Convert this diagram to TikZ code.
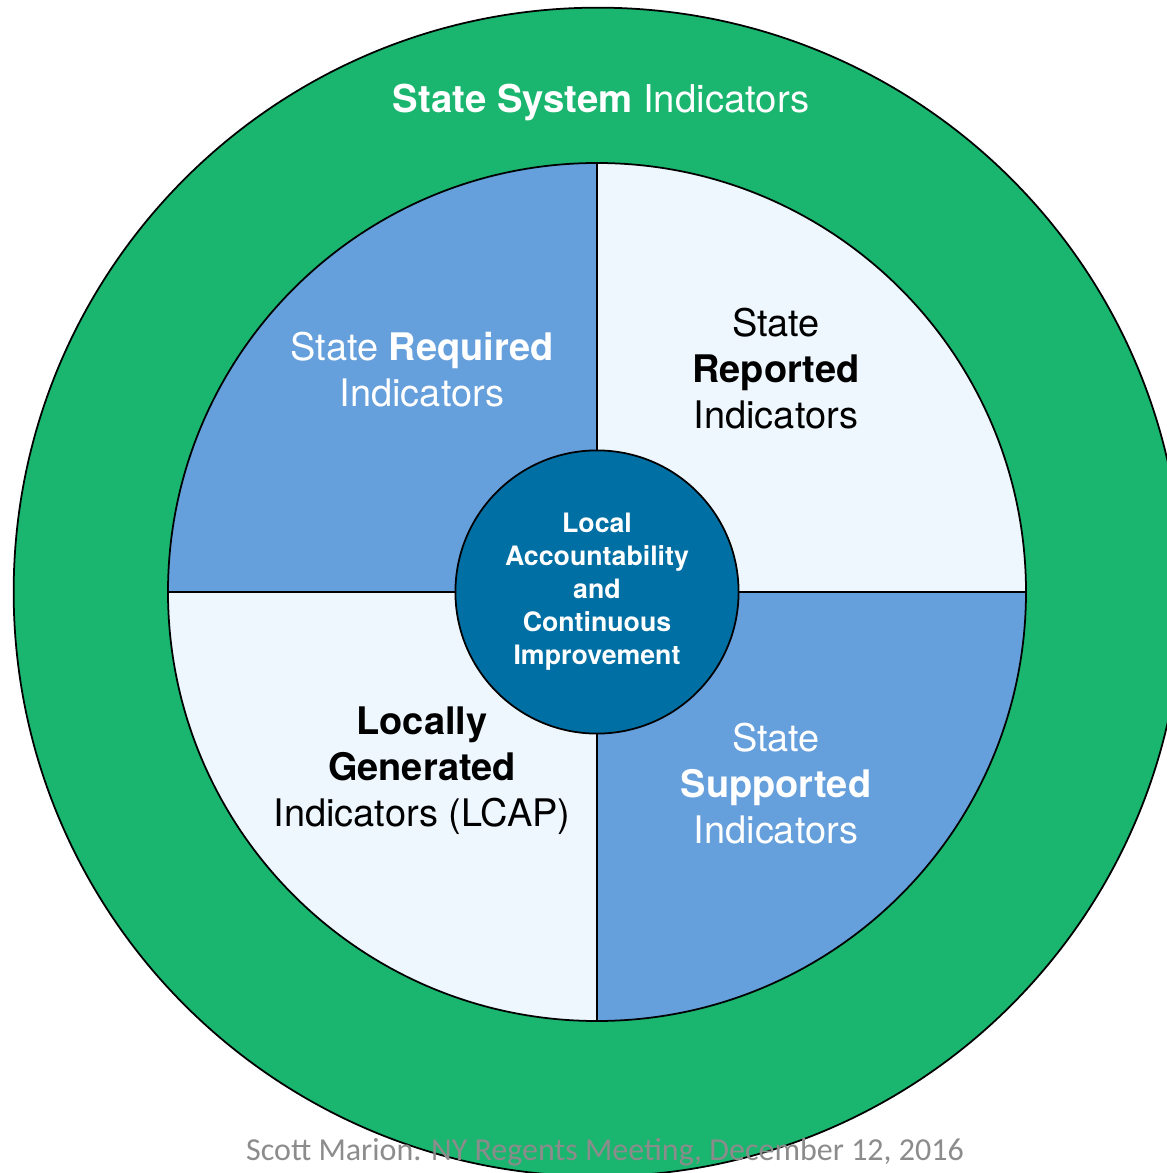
\documentclass[tikz,border=0pt]{standalone}
\usepackage{fontspec}
\setmainfont{TeX Gyre Heros}
\newfontfamily\footfont{Carlito}
\definecolor{systemgreen}{RGB}{26, 181, 110}
\definecolor{quadblue}{RGB}{101, 159, 220}
\definecolor{quadpale}{RGB}{238, 246, 254}
\definecolor{coreblue}{RGB}{0, 111, 164}
\definecolor{footgray}{RGB}{140, 140, 140}
\usepackage{tikz}

\tikzset{
  ring/.style={circle, draw=black, line width=0.5pt, inner sep=0pt},
  quadline/.style={draw=black, line width=0.5pt},
  quadlabel/.style={align=center, font=\fontsize{10.8}{13.1}\selectfont},
}

\begin{document}
\begin{tikzpicture}[x=0.01cm, y=0.01cm]
            \clip (-597,-581) rectangle (570,592);
            \node[ring, fill=systemgreen, minimum size=11.68cm] (system) at (1,0) {};
            \coordinate (hub) at (0,0);
            \draw[quadline, fill=quadblue] (hub) -- (180:429) arc[start angle=180, end angle=90, radius=429] -- cycle;
            \draw[quadline, fill=quadpale] (hub) -- (90:429) arc[start angle=90, end angle=0, radius=429] -- cycle;
            \draw[quadline, fill=quadblue] (hub) -- (0:429) arc[start angle=0, end angle=-90, radius=429] -- cycle;
            \draw[quadline, fill=quadpale] (hub) -- (270:429) arc[start angle=270, end angle=180, radius=429] -- cycle;
            \node[ring, fill=coreblue, minimum size=2.83cm, text=white, align=center, font=\bfseries\fontsize{7.6}{9.4}\selectfont] (core) at (hub) {Local\\Accountability\\and\\Continuous\\Improvement};
            \node[font=\fontsize{10.9}{13}\selectfont, text=white] (title) at (4,489) {\textbf{State System} Indicators};
            \node[quadlabel, text=white] (required) at (-175,222) {State \textbf{Required}\\Indicators};
            \node[quadlabel, text=black] (reported) at (179,223) {State\\\textbf{Reported}\\Indicators};
            \node[quadlabel, text=black] (locally) at (-175,-179) {\textbf{Locally}\\\textbf{Generated}\\Indicators (LCAP)};
            \node[quadlabel, text=white] (supported) at (179,-192) {State\\\textbf{Supported}\\Indicators};
            \node[font=\footfont\fontsize{9.1}{11}\selectfont, text=footgray] (credit) at (8,-560) {Scott Marion. NY Regents Meeting, December 12, 2016};
        \end{tikzpicture}
\end{document}
